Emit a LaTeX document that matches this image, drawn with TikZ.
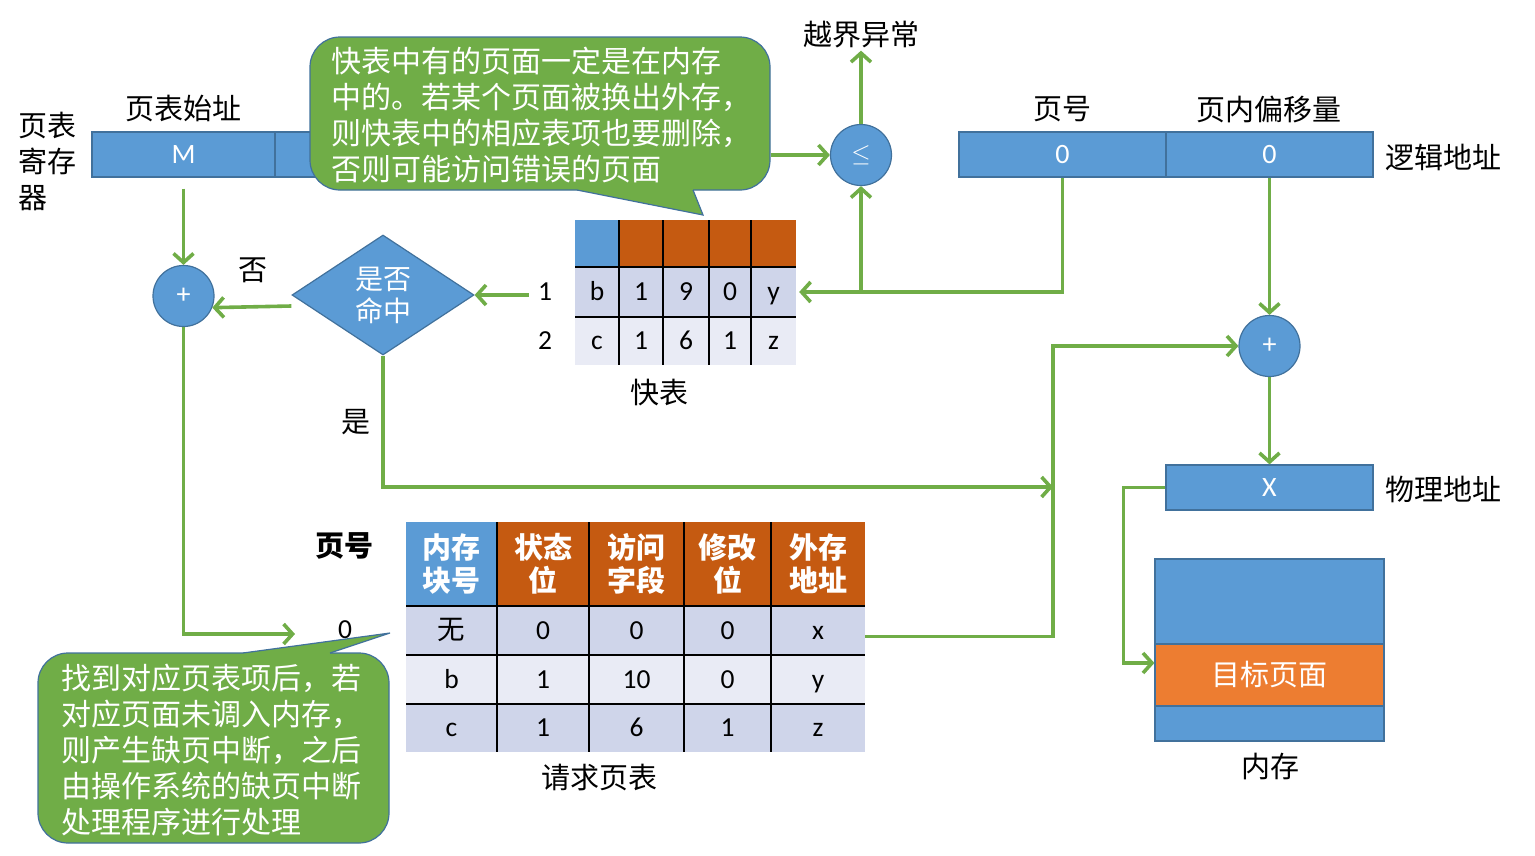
\documentclass[tikz,border=0pt]{standalone}
\usepackage{fontspec}
\setmainfont{Carlito}
\newfontfamily\cjk{Noto Sans CJK SC}
\usetikzlibrary{arrows.meta,shapes.geometric}
\definecolor{mblue}{HTML}{5B9BD5}
\definecolor{bord}{HTML}{41719C}
\definecolor{horange}{HTML}{C55A11}
\definecolor{torange}{HTML}{ED7D31}
\definecolor{lgreen}{HTML}{70AD47}
\definecolor{rowA}{HTML}{CFD5EA}
\definecolor{rowB}{HTML}{E9EBF5}
\newcommand\cjkL{\cjk\fontsize{29}{36}\selectfont}
\newcommand\cjkC{\cjk\fontsize{30}{36}\selectfont}
\newcommand\latL{\fontsize{28}{32}\selectfont}
\newcommand\latT{\fontsize{27.5}{32}\selectfont}
\begin{document}
\begin{tikzpicture}[x=1pt,y=-1pt,
  ln/.style={draw=lgreen, line width=3.6pt},
  arr/.style={ln, -{Straight Barb[length=9pt,width=20pt]}},
  bbox/.style={draw=bord, fill=mblue, line width=1.2pt, text=white, inner sep=0, font=\latL},
  circ/.style={circle, draw=bord, fill=mblue, line width=1.2pt, minimum size=61pt, inner sep=0, text=white, font=\fontsize{28}{28}\selectfont},
  lbl/.style={inner sep=0, font=\cjkL},
  callbox/.style={draw=bord, fill=lgreen, line width=1.2pt, rounded corners=30pt, inner sep=0},
  cell/.style={inner sep=0, font=\latT, text height=17.5pt, text depth=0.5pt},
  hcell/.style={inner sep=0, text=white, align=center, font=\cjk\bfseries\fontsize{29}{33}\selectfont},
  grid/.style={draw=black, line width=1.5pt}]
\useasboundingbox (0,0) rectangle (1535,855);

% page table register
\node[bbox, minimum width=183pt, minimum height=45pt] (M) at (183.5,154.5) {M};
\node[bbox, minimum width=60pt, minimum height=45pt] (M2) at (305,154.5) {};
\node[lbl] (regt) at (183,109) {页表始址};
\node[lbl, align=left, anchor=west] (regl) at (18,161) {页表\\寄存\\器};

% callout 1
\node[callbox, minimum width=460pt, minimum height=153pt] (co1) at (540,113.5) {};
\fill[lgreen] (577,190) -- (703,215) -- (693,190) -- (693,185) -- (577,185) -- cycle;
\draw[bord, line width=1.2pt] (577,190) -- (703,215) -- (693,190);
\node[inner sep=0, font=\cjkC, text=white, align=left, anchor=west] (co1t) at (331,115.5) {快表中有的页面一定是在内存\\中的。若某个页面被换出外存，\\则快表中的相应表项也要删除，\\否则可能访问错误的页面};

% comparator
\node[circ] (cmp) at (861,155) {$\le$};
\node[lbl] (exc) at (861,35) {越界异常};

% logical address
\node[bbox, minimum width=207pt, minimum height=45pt] (lp) at (1062.5,154.5) {0};
\node[bbox, minimum width=207pt, minimum height=45pt] (lo) at (1269.5,154.5) {0};
\node[lbl] (lpt) at (1062,109) {页号};
\node[lbl] (lot) at (1269,109) {页内偏移量};
\node[lbl] (lat) at (1443,157) {逻辑地址};

% TLB
\foreach \x/\w/\c [count=\i] in {597/44/mblue,641/44/horange,686/46/horange,730/42/horange,773.5/45/horange}
  \node[cell, fill=\c, minimum width=\w pt, minimum height=47pt] (t0\i) at (\x,243.5) {};
\foreach \x/\w/\t [count=\i] in {597/44/b,641/44/1,686/46/9,730/42/0,773.5/45/y}
  \node[cell, fill=rowA, minimum width=\w pt, minimum height=50pt] (t1\i) at (\x,292) {\t};
\foreach \x/\w/\t [count=\i] in {597/44/c,641/44/1,686/46/6,730/42/1,773.5/45/z}
  \node[cell, fill=rowB, minimum width=\w pt, minimum height=48pt] (t2\i) at (\x,341) {\t};
\foreach \x in {619,663,709,751} \draw[grid] (\x,220) -- (\x,365);
\foreach \y in {267,317} \draw[grid] (575,\y) -- (796,\y);
\node[lbl] (tlbt) at (659,393) {快表};
\node[cell] (n1) at (545,292) {1};
\node[cell] (n2) at (545,341) {2};

% diamond and adder
\node[diamond, draw=bord, fill=mblue, line width=1.2pt, minimum width=182pt, minimum height=120pt, inner sep=0, aspect=1.5, text=white, align=center, font=\cjk\fontsize{28}{32}\selectfont] (dia) at (383,295) {是否\\命中};
\node[circ] (plus1) at (183.5,296) {+};
\node[lbl] (no) at (253,270) {否};
\node[lbl] (yes) at (356,422) {是};

% page table
\foreach \x/\w/\c/\t [count=\i] in {451.5/91/mblue/内存\\块号,543/92/horange/状态\\位,636.5/95/horange/访问\\字段,727.5/87/horange/修改\\位,818/94/horange/外存\\地址}
  \node[hcell, fill=\c, minimum width=\w pt, minimum height=84pt] (p0\i) at (\x,564) {\t};
\foreach \x/\w/\t [count=\i] in {451.5/91/{\cjk 无},543/92/0,636.5/95/0,727.5/87/0,818/94/x}
  \node[cell, fill=rowA, minimum width=\w pt, minimum height=49pt] (p1\i) at (\x,630.5) {\t};
\foreach \x/\w/\t [count=\i] in {451.5/91/b,543/92/1,636.5/95/10,727.5/87/0,818/94/y}
  \node[cell, fill=rowB, minimum width=\w pt, minimum height=49pt] (p2\i) at (\x,679.5) {\t};
\foreach \x/\w/\t [count=\i] in {451.5/91/c,543/92/1,636.5/95/6,727.5/87/1,818/94/z}
  \node[cell, fill=rowA, minimum width=\w pt, minimum height=48pt] (p3\i) at (\x,728) {\t};
\foreach \x in {497,589,684,771} \draw[grid] (\x,522) -- (\x,752);
\foreach \y in {606,655,704} \draw[grid] (406,\y) -- (865,\y);
\node[lbl, font=\cjk\bfseries\fontsize{29}{36}\selectfont] (pgh) at (344,546) {页号};
\node[cell] (pg0) at (345,630) {0};
\node[lbl] (ptt) at (599,778) {请求页表};

% callout 2
\node[callbox, minimum width=351pt, minimum height=190pt] (co2) at (213.5,748) {};
\fill[lgreen] (243,653) -- (390,633) -- (330,653) -- (330,658) -- (243,658) -- cycle;
\draw[bord, line width=1.2pt] (243,653) -- (390,633) -- (330,653);
\node[inner sep=0, font=\cjkC, text=white, align=left, anchor=west] (co2t) at (61,750) {找到对应页表项后，若\\对应页面未调入内存，\\则产生缺页中断，之后\\由操作系统的缺页中断\\处理程序进行处理};

% right side
\node[circ] (plus2) at (1269.5,346) {+};
\node[bbox, minimum width=207pt, minimum height=45pt] (phys) at (1269.5,487.5) {X};
\node[lbl] (pat) at (1443,489) {物理地址};
\node[draw=bord, fill=mblue, line width=1.2pt, minimum width=229pt, minimum height=182pt, inner sep=0] (mem) at (1269.5,650) {};
\node[draw=bord, fill=torange, line width=1.2pt, minimum width=229pt, minimum height=62pt, inner sep=0, text=white, font=\cjkL] (tgt) at (1269.5,675) {目标页面};
\node[lbl] (memt) at (1270,766) {内存};

% connectors
\coordinate (pt0) at (295,634);
\coordinate (j1) at (1053,487);
\draw[arr] ([yshift=-11pt]M.south) -- (plus1.north);
\draw[arr] ([yshift=-11pt]dia.west) -- (plus1.-22);
\draw[arr] (plus1.south) |- (pt0);
\draw[arr] ([xshift=-9pt]n1.west |- dia.east) -- (dia.east);
\draw[arr] (dia.south) |- (j1);
\draw[arr] (co1.east |- cmp.west) -- (cmp.west);
\draw[arr] (cmp.north) -- ([yshift=-2pt]exc.south);
\draw[arr] (lp.south) -- (lp.south |- t15.east) -- ([xshift=3pt]t15.east);
\draw[arr] (cmp.south |- t15.east) -- (cmp.south);
\draw[arr] ([yshift=-6pt]p15.east) -- ++(188,0) |- (plus2.west);
\draw[arr] (lo.south) -- (plus2.north);
\draw[arr] (plus2.south) -- (phys.north);
\draw[arr] (phys.west) -- ++(-42,0) |- ([yshift=12pt]tgt.west);
\end{tikzpicture}
\end{document}
